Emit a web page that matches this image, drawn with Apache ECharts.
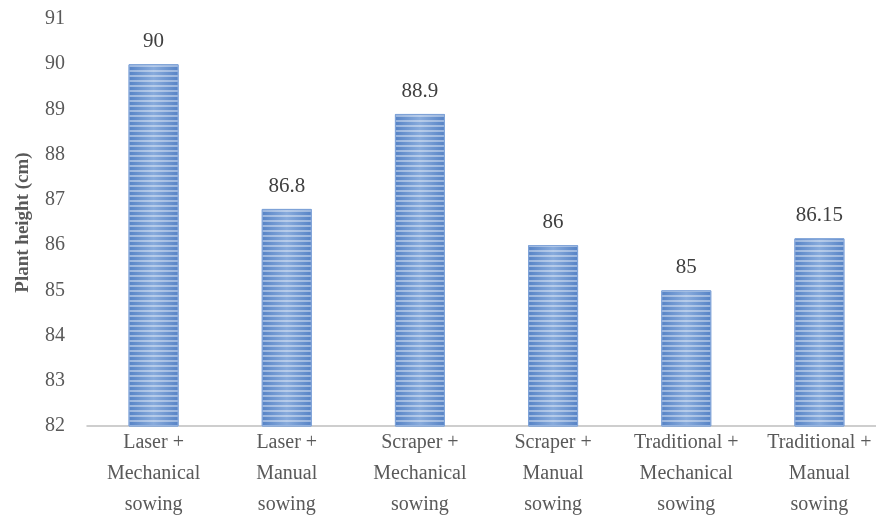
<!DOCTYPE html>
<html>
<head>
<meta charset="utf-8">
<script src="https://cdn.jsdelivr.net/npm/echarts@6/dist/echarts.min.js"></script>
<style>
html,body{margin:0;padding:0;background:#fff;overflow:hidden;}
#chart{width:876px;height:517px;}
</style>
</head>
<body>
<div id="chart"></div>
<script>
var categories = ['Laser +\nMechanical\nsowing', 'Laser +\nManual\nsowing', 'Scraper +\nMechanical\nsowing', 'Scraper +\nManual\nsowing', 'Traditional +\nMechanical\nsowing', 'Traditional +\nManual\nsowing'];
var heights = [90, 86.8, 88.9, 86, 85, 86.15];
var yMin = 82, yMax = 91;

var myChart = echarts.init(document.getElementById('chart'));
var fontFam = '"Liberation Serif", "Times New Roman", serif';

myChart.setOption({
    animation: false,
    grid: {
        left: 87,
        top: 19,
        width: 799,
        height: 407,
        containLabel: false,
        outerBoundsMode: 'none'
    },
    xAxis: {
        type: 'category',
        data: categories,
        axisLine: { lineStyle: { color: '#bfbfbf', width: 1.5 } },
        axisTick: { show: false },
        axisLabel: {
            interval: 0,
            color: '#595959',
            fontFamily: fontFam,
            fontSize: 20,
            lineHeight: 31,
            margin: 1
        }
    },
    yAxis: {
        type: 'value',
        min: yMin,
        max: yMax,
        interval: 1,
        name: 'Plant height (cm)',
        nameLocation: 'middle',
        nameGap: 54,
        nameTextStyle: {
            color: '#595959',
            fontFamily: fontFam,
            fontSize: 19,
            fontWeight: 'bold'
        },
        axisLine: { show: false },
        axisTick: { show: false },
        splitLine: { show: false },
        axisLabel: {
            color: '#595959',
            fontFamily: fontFam,
            fontSize: 20,
            margin: 22
        }
    },
    series: [{
        type: 'bar',
        data: heights,
        barWidth: 50,
        itemStyle: {
            color: {
                type: 'linear', x: 0, y: 0, x2: 1, y2: 0,
                colorStops: [
                    { offset: 0, color: '#5683c6' },
                    { offset: 0.5, color: '#88abdc' },
                    { offset: 1, color: '#5683c6' }
                ]
            },
            borderColor: '#7fa3d8',
            borderWidth: 1,
            decal: {
                symbol: 'rect',
                dashArrayX: [1, 0],
                dashArrayY: [2, 3],
                rotation: 0,
                color: 'rgba(255,255,255,0.4)'
            }
        },
        label: {
            show: true,
            position: 'top',
            distance: 12,
            color: '#404040',
            fontFamily: fontFam,
            fontSize: 21
        }
    }]
});
</script>
</body>
</html>
